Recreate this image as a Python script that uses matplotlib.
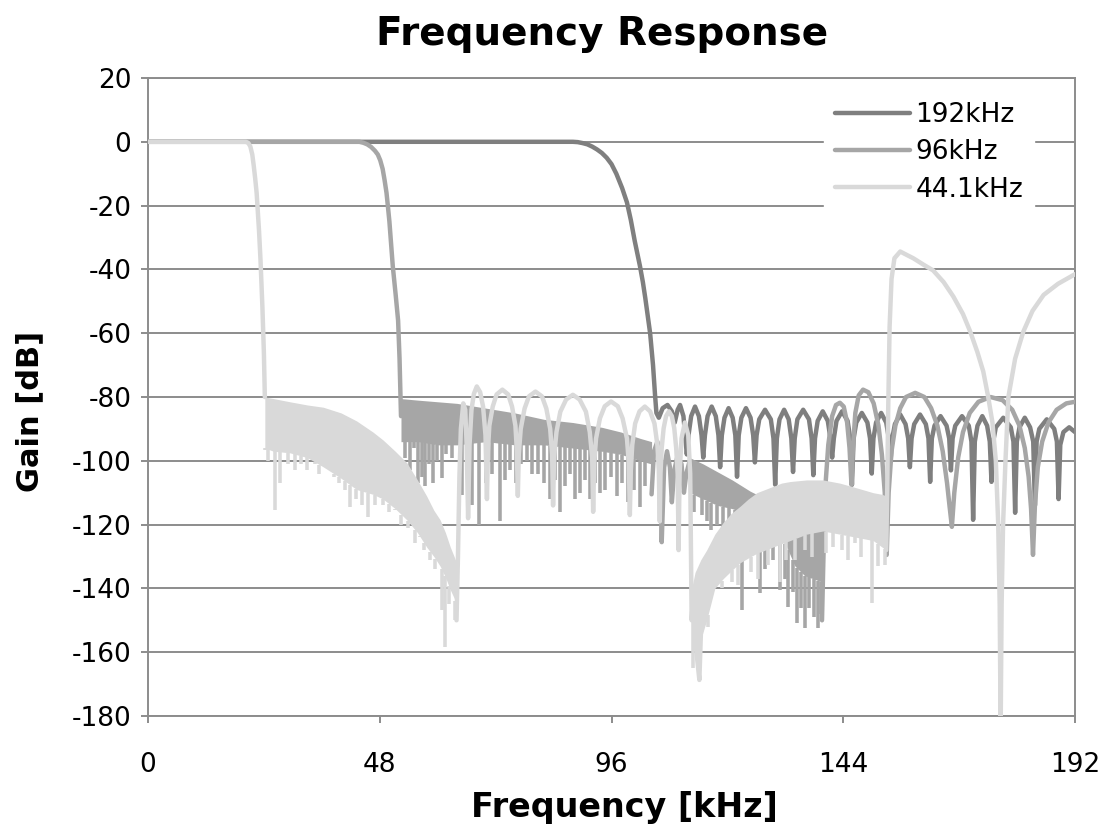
#!/usr/bin/env python3
# plot.py
# Frequency response of the three decimation filters (192 / 96 / 44.1 kHz)

import matplotlib
matplotlib.use('Agg')
import matplotlib.pyplot as plt
import numpy as np
from matplotlib import font_manager

# ---- data: (kHz, dB) ----
trace_192 = [
    (0, 0), (88, 0), (89, -0.1), (90, -0.4), (91, -0.8), (92, -1.5), (93, -2.4), (94, -3.5),
    (95, -5), (96, -7), (97, -10), (98.2, -14.5), (99.2, -19), (100, -24.5), (100.8, -31),
    (101.5, -36), (101.9, -39), (102.5, -44), (103, -49), (103.5, -54.5), (104, -60), (104.6, -70),
    (105, -79), (105.3, -85),
    (105.8, -86.5), (106.6, -83.5), (107.6, -82.5), (108.5, -84.5), (109.1, -88), (109.7, -84),
    (110.2, -82.5), (110.9, -86), (111.25, -92),
    (111.6, -98), (111.95, -92), (112.5, -86), (113.3, -83), (114.1, -86), (114.65, -92),
    (115.0, -99), (115.35, -92), (115.9, -86), (116.75, -83), (117.6, -86), (118.15, -92),
    (118.5, -102), (118.85, -92), (119.4, -86.5), (120.25, -83.5), (121.1, -86.5), (121.65, -92),
    (122.0, -105), (122.35, -92), (122.9, -86.5), (123.85, -83.5), (124.8, -86.5), (125.35, -92),
    (125.7, -100.5), (126.05, -92), (126.6, -87), (127.8, -84), (129.0, -87), (129.55, -93),
    (129.9, -107.5), (130.25, -93), (130.8, -87), (131.75, -84), (132.7, -87), (133.25, -93),
    (133.6, -103.5), (133.95, -93), (134.5, -87), (135.7, -84), (136.9, -87), (137.45, -93),
    (137.8, -104.5), (138.15, -93), (138.7, -87.5), (139.75, -84.5), (140.8, -87.5), (141.35, -93),
    (141.7, -99), (142.05, -93), (142.6, -87.5), (143.75, -84.5), (144.9, -87.5), (145.45, -93),
    (145.8, -107.5), (146.15, -93), (146.7, -88), (147.85, -85), (149.0, -88), (149.55, -93),
    (149.9, -104), (150.25, -93), (150.8, -88), (151.85, -85), (152.9, -88), (153.45, -93),
    (153.8, -100), (154.15, -93), (154.7, -88.5), (155.8, -85.5), (156.9, -88.5), (157.45, -93),
    (157.8, -102), (158.15, -93), (158.7, -88.5), (159.9, -85.5), (161.1, -88.5), (161.65, -93),
    (162.0, -106.6), (162.35, -93), (162.9, -89), (164.15, -86), (165.4, -89), (165.95, -93),
    (166.3, -103), (166.65, -93), (167.2, -89), (168.6, -86), (170.0, -89), (170.55, -94),
    (170.9, -118.5), (171.25, -94), (171.8, -89), (172.8, -86), (173.8, -89), (174.35, -94),
    (174.7, -106.6), (175.05, -94), (175.6, -89.5), (177.15, -86.5), (178.7, -89.5), (179.25, -94),
    (179.6, -116.3), (179.95, -94), (180.5, -89.5), (181.6, -86.5), (182.7, -89.5), (183.35, -94),
    (183.7, -114), (184.05, -94), (184.6, -90), (186.15, -87), (187.7, -90), (188.25, -94),
    (188.6, -112), (188.95, -95), (189.6, -91), (190.8, -89.5), (192, -91),
]

# 96 kHz: passband + transition
trace_96_pass = [
    (0, 0), (43.8, 0), (44.6, -0.3), (45.4, -0.8), (46.2, -1.6), (47.0, -2.8), (47.6, -4),
    (48.1, -5.8), (48.6, -8.5), (49.0, -12), (49.4, -16), (49.7, -20.4), (50.0, -25), (50.3, -31),
    (50.7, -39), (51.3, -48), (51.8, -56), (52.1, -68), (52.3, -80), (52.4, -86),
]
# 96 kHz: dense ripple band (envelope) and its spikes
band_96_f = [52.4, 56, 60, 64, 70, 76, 82, 88, 94, 98, 102, 104.3]
band_96_top = [-80.5, -81, -81.5, -82, -83.5, -85, -87, -88, -89.5, -91, -93, -94]
band_96_bot = [-94, -94, -95, -95, -94, -95, -95, -96, -97, -98, -100, -101]
spikes_96 = [
    (53.2, -99), (54.3, -103), (55.0, -96), (55.9, -107), (56.7, -105), (57.4, -108), (58.2, -101),
    (59.0, -107), (59.8, -100), (60.9, -105.5), (61.8, -98), (63.0, -99), (65.0, -110.7),
    (66.3, -104), (67.2, -114), (68.6, -120), (70.0, -107), (71.2, -104), (72.9, -119), (74.0, -106),
    (75.0, -103), (76.2, -107), (77.3, -101), (78.5, -100), (79.6, -104), (80.8, -104), (82.0, -107),
    (83.3, -112), (84.2, -106), (85.3, -116), (86.4, -108), (87.4, -104), (88.4, -112), (89.5, -110),
    (90.6, -106), (91.6, -112), (92.6, -107), (93.6, -110), (94.6, -109), (95.8, -105), (97.1, -111),
    (98.2, -107), (99.4, -113), (100.6, -109), (101.9, -114.5), (103.0, -108),
]
trace_96_mid = [
    (104.3, -110.5), (104.8, -97), (105.5, -94), (106.0, -100), (106.4, -125.5), (106.9, -102),
    (107.5, -97), (108.1, -102), (108.5, -113), (109.0, -103), (109.6, -99), (110.5, -101),
    (111.0, -110), (111.5, -104), (112.2, -100),
]
band_96b_f = [112.2, 115, 118, 121, 124.7, 128, 132, 134, 136, 139.6]
band_96b_top = [-99, -101, -103.5, -106, -109.5, -112, -115, -117, -118, -122]
band_96b_bot = [-110, -112, -114, -115, -117, -122, -126, -133, -136, -138]
spikes_96b = [
    (113.0, -116), (114.7, -117), (115.8, -119), (116.7, -121.6), (117.8, -120), (119.0, -122),
    (120.3, -121), (121.5, -122), (123.0, -146.7), (124.3, -128), (126.8, -141.5), (127.8, -134),
    (129.4, -131), (130.9, -140.4), (132.0, -137), (132.6, -145.8), (133.5, -141), (134.4, -150.8),
    (135.2, -146), (136.1, -152.4), (137.0, -146), (137.9, -149), (138.8, -152.4), (139.4, -148),
]
trace_96_stop = [
    (139.6, -150), (139.9, -130), (140.3, -108), (140.9, -95), (141.7, -86), (142.5, -82.5),
    (143.3, -81.8), (144.1, -83), (144.8, -88), (145.3, -96), (145.7, -107.5), (146.0, -96),
    (146.5, -85), (147.2, -79.5), (148.1, -77.7), (149.2, -78.5), (150.3, -82), (151.3, -89),
    (152.0, -98), (152.6, -110), (153.0, -129.5), (153.4, -110), (154.0, -97), (154.8, -89),
    (155.8, -83.5), (157.0, -80), (158.9, -78.7), (160.8, -80), (162.2, -83.5), (163.5, -89),
    (164.6, -97), (165.5, -107), (166.0, -114), (166.5, -120.7), (167.0, -110), (167.8, -99),
    (168.8, -91), (170.2, -85), (172.0, -81.5), (174.5, -80), (177.0, -81), (179.0, -84),
    (180.5, -89), (181.6, -96), (182.4, -105), (182.9, -115), (183.3, -129.5), (183.7, -114),
    (184.3, -102), (185.2, -94), (186.5, -88), (188.2, -84), (190.2, -82), (192, -81.5),
]

# 44.1 kHz
trace_44_pass = [
    (0, 0), (20.3, 0), (20.8, -0.4), (21.2, -1.5), (21.6, -4), (21.9, -7.5), (22.2, -11.5),
    (22.5, -16), (23.0, -28), (23.3, -37), (23.7, -52), (24.0, -66), (24.2, -80),
]
band_44_f = [24.2, 26, 29.4, 33, 36.3, 40, 43.2, 46.6, 48.7, 51.2, 53.6, 55.8, 57.7, 59.2,
             60.5, 61.6, 62.6, 63.4, 63.9]
band_44_top = [-80, -80.5, -81.5, -82.5, -83.2, -85, -87.5, -91, -93.5, -97, -100.6, -106,
               -111, -115.5, -118.5, -122.5, -127, -130, -132]
band_44_bot = [-96, -97, -97.5, -99, -101.9, -105.5, -109, -110.5, -112, -115, -118.5, -122.5,
               -127, -130, -133, -136.5, -140.4, -143, -145]
spikes_44 = [
    (24.3, -96.5), (24.9, -100), (26.3, -115.4), (27.3, -106.9), (29.0, -101), (30.5, -103),
    (31.7, -101), (32.9, -102.8), (34.5, -101), (35.5, -104), (37.3, -102.8), (38.5, -105),
    (39.6, -107), (40.7, -109), (41.8, -114.4), (43.0, -112), (44.3, -114), (45.6, -117.5),
    (47.0, -114), (48.7, -113.8), (50.0, -116), (51.2, -115.4), (52.5, -120), (53.8, -121),
    (55.3, -125.7), (56.3, -124), (57.2, -128), (58.5, -131), (59.5, -134), (60.8, -146.7),
    (61.5, -158.3), (62.3, -145), (63.6, -149.8),
]
trace_44_lobes = [
    (63.9, -150), (64.2, -130), (64.5, -105), (64.8, -90), (65.3, -82), (65.7, -84), (66.0, -95),
    (66.3, -118), (66.6, -95), (67.0, -84), (67.5, -79), (68.1, -76.7), (68.8, -78.5), (69.4, -83),
    (69.9, -92), (70.2, -112),
    (70.4, -97), (70.7, -89), (71.4, -83), (72.2, -79.2), (73.4, -77.7), (74.6, -79.2), (75.4, -83),
    (76.1, -89), (76.4, -97), (76.6, -111),
    (76.8, -98), (77.2, -90), (78.0, -83.6), (78.9, -79.8), (80.25, -78.3), (81.6, -79.8),
    (82.5, -83.6), (83.3, -90), (83.7, -98), (83.9, -114),
    (84.1, -99), (84.6, -91), (85.4, -84.6), (86.6, -80.8), (88.0, -79.3), (89.4, -80.8),
    (90.7, -84.6), (91.5, -91), (92.0, -99), (92.2, -116),
    (92.4, -101), (92.8, -93), (93.6, -86.7), (94.6, -82.9), (95.9, -81.4), (97.3, -82.9),
    (98.3, -86.7), (99.2, -93), (99.6, -101), (99.8, -117),
    (100.0, -103), (100.3, -95), (100.9, -88.3), (101.8, -84.5), (102.9, -83), (104.0, -84.5),
    (104.9, -88.3), (105.5, -95), (105.8, -103), (106.0, -119),
    (106.15, -104), (106.4, -96), (106.8, -89.8), (107.3, -86), (107.9, -84.5), (108.5, -86),
    (109.0, -89.8), (109.4, -96), (109.7, -104), (109.9, -128),
    (110.1, -104), (110.5, -93), (111.2, -88), (111.9, -92), (112.3, -104), (112.6, -150),
    (113.0, -140), (113.6, -160), (114.2, -168.7), (114.6, -150),
]
band_44b_f = [112.6, 113.3, 114.5, 115.7, 117.4, 119.1, 120.8, 122.6, 124.3, 126.1, 127.8,
              129.5, 131.2, 133.0, 136.4, 139.8, 143.3, 146.8, 150.2, 152.0, 152.9]
band_44b_top = [-140, -135, -131, -128, -123, -119.4, -116.5, -114.3, -112, -110, -109, -108,
                -107, -106.5, -106, -106, -107, -108.5, -110, -110.5, -111]
band_44b_bot = [-145, -158, -156, -150, -140, -137, -134.5, -132, -130.5, -129, -128, -127,
                -126, -125, -123, -122, -123, -124, -125, -127, -128]
spikes_44b = [
    (112.9, -165), (114.2, -168.7), (116.0, -152), (118.8, -140), (121.0, -138), (122.2, -139),
    (124.8, -135), (126.4, -137), (128.4, -132.6), (130.9, -138), (132.2, -131), (134.0, -131),
    (136.0, -128), (137.5, -130), (140.5, -129), (141.8, -127), (143.7, -128), (145.0, -131),
    (146.4, -125.7), (147.6, -130), (149.9, -144.5), (151.3, -133), (152.6, -132.6),
]
trace_44_stop = [
    (152.9, -128), (153.1, -110), (153.3, -85), (153.6, -58), (154.0, -43), (154.6, -36.5),
    (155.8, -34.4), (157.2, -35.5), (158.5, -36.5), (160.6, -38.5), (162.6, -40.3), (164.8, -44),
    (166.8, -48.5), (168.8, -54), (170.3, -59.5), (171.8, -66), (173.0, -72), (174.0, -79.8),
    (174.9, -88), (175.6, -100), (176.1, -120), (176.4, -145), (176.6, -185), (176.8, -145),
    (177.1, -120), (177.6, -100), (178.2, -80), (179.6, -68), (181.3, -59.5), (183.2, -53),
    (185.5, -48), (188.5, -44.5), (192, -41.5),
]

series_labels = ['192kHz', '96kHz', '44.1kHz']
x_ticks = [0, 48, 96, 144, 192]
y_ticks = list(range(-180, 21, 20))

C192 = '#7f7f7f'
C96 = '#a6a6a6'
C44 = '#d9d9d9'
GRID = '#8c8c8c'
LW = 3.2

plt.rcParams['axes.unicode_minus'] = False
names = {f.name for f in font_manager.fontManager.ttflist}
tick_font = 'Liberation Sans Narrow' if 'Liberation Sans Narrow' in names else 'DejaVu Sans'


def draw_line(ax, pts, color, z, label=None):
    f, g = zip(*pts)
    return ax.plot(f, g, color=color, lw=LW, zorder=z, solid_joinstyle='round',
                   solid_capstyle='round', label=label)[0]


def draw_band(ax, f, top, bot, spikes, color, z):
    ax.fill_between(f, top, bot, color=color, lw=0, zorder=z)
    sf, sd = zip(*spikes)
    start = np.interp(sf, f, bot)
    ax.vlines(sf, sd, start, color=color, lw=LW * 0.8, zorder=z)


fig = plt.figure(figsize=(11.12, 8.30), dpi=100)
ax = fig.add_axes([148 / 1112, 1 - 716 / 830, 927 / 1112, 638 / 830])

h1 = draw_line(ax, trace_192, C192, 2)

h2 = draw_line(ax, trace_96_pass, C96, 3)
draw_band(ax, band_96_f, band_96_top, band_96_bot, spikes_96, C96, 3)
draw_line(ax, trace_96_mid, C96, 3)
draw_band(ax, band_96b_f, band_96b_top, band_96b_bot, spikes_96b, C96, 3)
draw_line(ax, trace_96_stop, C96, 3)

h3 = draw_line(ax, trace_44_pass, C44, 4)
draw_band(ax, band_44_f, band_44_top, band_44_bot, spikes_44, C44, 4)
draw_line(ax, trace_44_lobes, C44, 4)
draw_band(ax, band_44b_f, band_44b_top, band_44b_bot, spikes_44b, C44, 4)
draw_line(ax, trace_44_stop, C44, 4)

ax.set_xlim(0, 192)
ax.set_ylim(-180, 20)
ax.set_xticks(x_ticks)
ax.set_yticks(y_ticks)
ax.grid(axis='y', color=GRID, lw=1.4)
ax.set_axisbelow(True)
for sp in ax.spines.values():
    sp.set_color(GRID)
    sp.set_linewidth(1.4)
ax.tick_params(axis='both', direction='out', length=5, width=1.4, color=GRID,
               labelsize=19, labelcolor='black')
ax.tick_params(axis='x', pad=21)
ax.tick_params(axis='y', pad=7)
for lab in ax.get_xticklabels() + ax.get_yticklabels():
    lab.set_family(tick_font)

leg = ax.legend([h1, h2, h3], series_labels, loc='upper left', bbox_to_anchor=(0.7297, 0.979),
                borderaxespad=0, frameon=True, fancybox=False, framealpha=1,
                facecolor='white', edgecolor='white', fontsize=19, handlelength=2.84,
                handletextpad=0.2, labelspacing=0.43, borderpad=0.4)
for txt in leg.get_texts():
    txt.set_family(tick_font)
leg.set_zorder(10)

fig.text(602 / 1112, 1 - 45 / 830, 'Frequency Response', ha='center', va='baseline',
         fontsize=28, fontweight='bold')
fig.text(624 / 1112, 1 - 817 / 830, 'Frequency [kHz]', ha='center', va='baseline',
         fontsize=24, fontweight='bold')
fig.text(30 / 1112, 1 - 411 / 830, 'Gain [dB]', ha='center', va='center', rotation=90,
         fontsize=22, fontweight='bold')

fig.savefig('out.png', dpi=100)
